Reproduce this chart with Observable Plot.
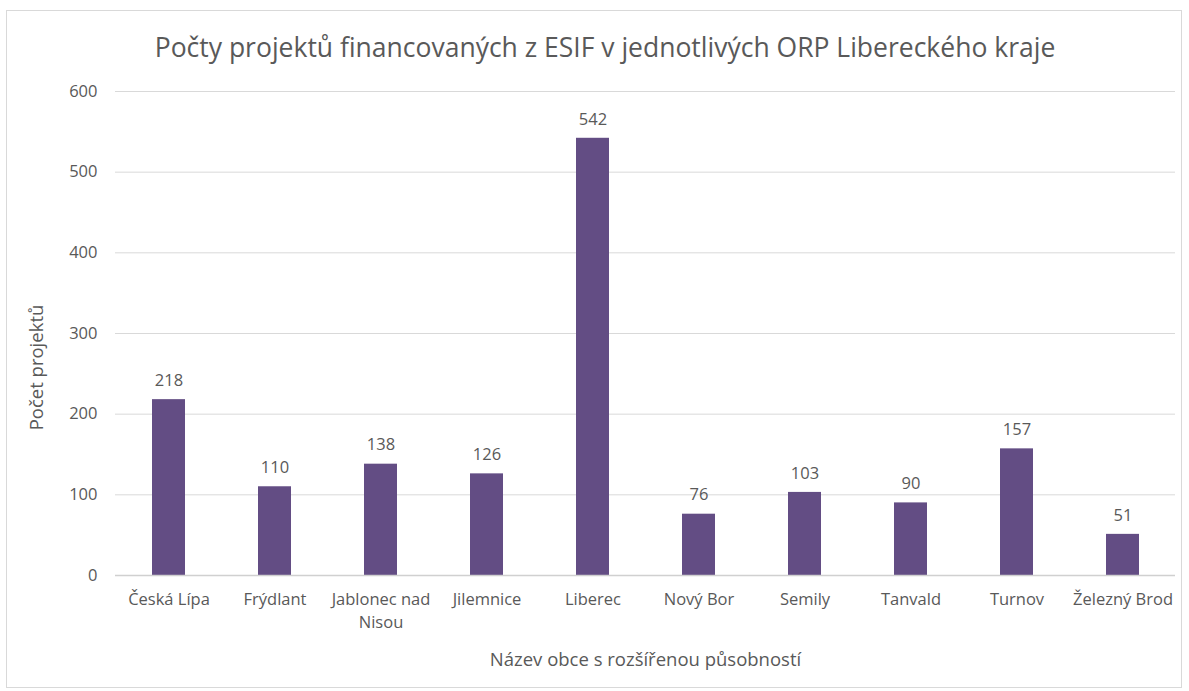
<!DOCTYPE html>
<html>
<head>
<meta charset="utf-8">
<script src="https://cdn.jsdelivr.net/npm/d3@7"></script>
<script src="https://cdn.jsdelivr.net/npm/@observablehq/plot@0.6"></script>
<style>
  html, body { margin: 0; padding: 0; background: #fff; }
  #page { position: relative; width: 1189px; height: 691px; overflow: hidden; font-family: "Open Sans", sans-serif; }
  #frame { position: absolute; left: 6px; top: 10px; width: 1176px; height: 678px; border: 1px solid #d9d9d9; box-sizing: border-box; }
  #title { position: absolute; left: 0; width: 1210px; top: 29px; text-align: center; font-size: 26.5px; color: #595959; white-space: nowrap; }
  #chart { position: absolute; left: 0; top: 0; }
</style>
</head>
<body>
<div id="page">
  <div id="frame"></div>
  <div id="title">Počty projektů financovaných z ESIF v jednotlivých ORP Libereckého kraje</div>
  <div id="chart"></div>
</div>
<script>
const categories = ["Česká Lípa", "Frýdlant", "Jablonec nad Nisou", "Jilemnice", "Liberec", "Nový Bor", "Semily", "Tanvald", "Turnov", "Železný Brod"];
const tickLabels = ["Česká Lípa", "Frýdlant", "Jablonec nad\nNisou", "Jilemnice", "Liberec", "Nový Bor", "Semily", "Tanvald", "Turnov", "Železný Brod"];
const values = [218, 110, 138, 126, 542, 76, 103, 90, 157, 51];
const yTicks = [0, 100, 200, 300, 400, 500, 600];
const xAxisTitle = "Název obce s rozšířenou působností";
const yAxisTitle = "Počet projektů";

const data = categories.map((c, i) => ({ orp: c, count: values[i] }));
const labelOf = new Map(categories.map((c, i) => [c, tickLabels[i]]));

const textColor = "#595959";
const chart = Plot.plot({
  width: 1189,
  height: 691,
  marginLeft: 115,
  marginRight: 14,
  marginTop: 91,
  marginBottom: 116,
  style: { fontFamily: "'Open Sans', sans-serif", fontSize: "16.5px", color: textColor, background: "transparent" },
  x: { domain: categories, paddingInner: 0.69, paddingOuter: 0.345, label: null },
  y: { domain: [0, 600], label: null },
  marks: [
    Plot.ruleY(yTicks.filter(d => d > 0), { stroke: "#d9d9d9", strokeWidth: 1 }),
    Plot.barY(data, { x: "orp", y: "count", fill: "#634d84" }),
    Plot.ruleY([0], { stroke: "#d0d0d0", strokeWidth: 1.5 }),
    Plot.text(data, { x: "orp", y: "count", text: d => String(d.count), dy: -19, fill: textColor, fontSize: 16.5 }),
    Plot.axisY({ ticks: yTicks, tickSize: 0, tickPadding: 18, fontSize: 16.5, label: null, fill: textColor }),
    Plot.axisX({ tickSize: 0, tickPadding: 14, fontSize: 16.5, tickFormat: d => labelOf.get(d), lineHeight: 1.35, label: null, fill: textColor }),
    Plot.text([yAxisTitle], { frameAnchor: "left", textAnchor: "middle", lineAnchor: "middle", text: d => d, rotate: -90, dx: -78, dy: 34, fontSize: 18.5, fill: textColor }),
    Plot.text([xAxisTitle], { frameAnchor: "bottom", text: d => d, lineAnchor: "middle", dx: 0, dy: 85, fontSize: 18.5, fill: textColor })
  ]
});
document.getElementById("chart").appendChild(chart);
</script>
</body>
</html>
